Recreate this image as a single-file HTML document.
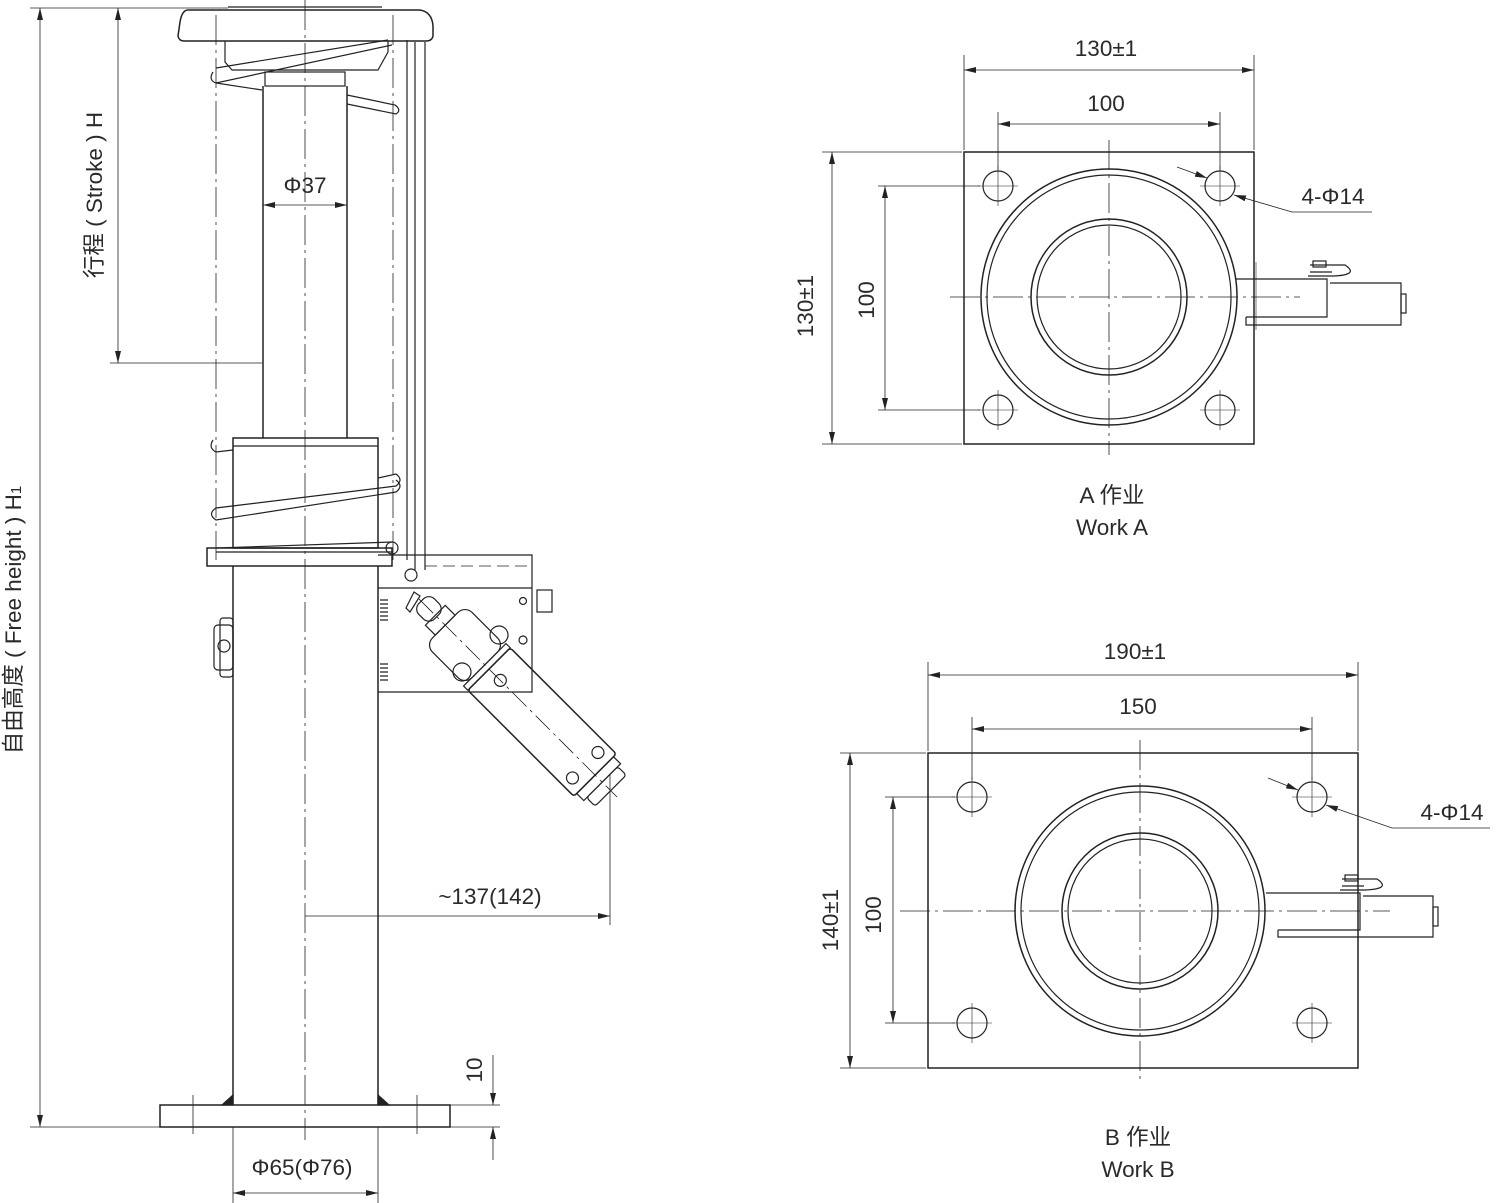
<!DOCTYPE html>
<html><head><meta charset="utf-8"><style>
html,body{margin:0;padding:0;background:#fff}
svg{display:block}
text{font-family:"Liberation Sans","Noto Sans CJK SC",sans-serif;font-size:22.5px;fill:#2a2a2a}
</style></head><body>
<svg width="1500" height="1203" viewBox="0 0 1500 1203" xmlns="http://www.w3.org/2000/svg">
<defs>
<marker id="a" viewBox="0 0 12 6" refX="12" refY="3" markerWidth="12" markerHeight="6" orient="auto-start-reverse" markerUnits="userSpaceOnUse"><path d="M0,0 L12,3 L0,6 Z" fill="#222"/></marker>
</defs>
<g stroke="#222" fill="none" stroke-width="1.2">
<line x1="305" y1="0" x2="305" y2="1140" stroke-dasharray="30,5,3,5" stroke-width="0.8"/>
<line x1="216" y1="15" x2="216" y2="560" stroke-dasharray="30,5,3,5" stroke-width="0.8"/>
<line x1="393" y1="15" x2="393" y2="560" stroke-dasharray="30,5,3,5" stroke-width="0.8"/>
<line x1="228" y1="7" x2="382" y2="7"/>
<path d="M188,10 L420,10 Q432,12 433,26 L433,36 Q432,41 426,41 L184,41 Q179,41 178,36 L180,22 Q182,10 188,10 Z" stroke-width="1.5"/>
<path d="M225,41 L225,62 L232,70 L378,70 L388,52 L388,41"/>
<path d="M213,72 Q208,80 216,83 L392,45"/>
<path d="M216,68 L388,40"/>
<path d="M216,83 L262,90"/>
<path d="M347,95 L395,105 Q402,110 396,114 L347,104"/>
<rect x="265" y="72" width="80" height="14"/>
<line x1="263" y1="86" x2="263" y2="438" stroke-width="1.5"/>
<line x1="347" y1="86" x2="347" y2="438" stroke-width="1.5"/>
<rect x="233" y="438" width="145" height="110" stroke-width="1.5"/>
<line x1="233" y1="446" x2="378" y2="446"/>
<path d="M213,440 Q208,448 216,452 L233,450"/>
<path d="M378,478 L396,474 Q404,480 396,486 L216,508 Q207,514 216,520 L396,492 Q404,486 396,480"/>
<path d="M216,548 L392,542"/>
<rect x="207" y="548" width="185" height="18" stroke-width="1.5"/>
<line x1="216" y1="552" x2="392" y2="552"/>
<circle cx="392" cy="548" r="6"/>
<line x1="233" y1="566" x2="233" y2="1105" stroke-width="1.5"/>
<line x1="378" y1="566" x2="378" y2="1105" stroke-width="1.5"/>
<path d="M222,1105 L233,1095 L233,1105 Z M389,1105 L378,1095 L378,1105 Z" fill="#222"/>
<rect x="160" y="1105" width="290" height="22" stroke-width="1.5"/>
<line x1="193" y1="1095" x2="193" y2="1134" stroke-width="0.8"/>
<line x1="417" y1="1095" x2="417" y2="1134" stroke-width="0.8"/>
<rect x="214" y="625" width="19" height="45" rx="4"/>
<rect x="220" y="618" width="13" height="59" rx="3"/>
<circle cx="224" cy="646" r="6"/>
<line x1="407" y1="40" x2="407" y2="560"/>
<line x1="415" y1="42" x2="415" y2="570"/>
<line x1="425" y1="42" x2="425" y2="570"/>
<path d="M378,555 L532,555 L532,692 L378,692"/>
<line x1="378" y1="588" x2="532" y2="588"/>
<line x1="425" y1="566" x2="532" y2="566" stroke-dasharray="12,6" stroke-width="0.8"/>
<circle cx="411" cy="575" r="6"/>
<rect x="537" y="590" width="15" height="22"/>
<circle cx="523" cy="601" r="3.5"/>
<circle cx="523" cy="640" r="4"/>
<path d="M380,600 h8 M380,604 h8 M380,608 h8 M380,612 h8 M380,616 h8 M380,620 h8 M380,664 h8 M380,668 h8 M380,672 h8 M380,676 h8 M380,680 h8"/>
<g transform="translate(465,645) rotate(45)">
<rect x="-62" y="-11" width="22" height="22" rx="8"/>
<rect x="-42" y="-14" width="14" height="28"/>
<rect x="-28" y="-28" width="56" height="56" rx="10"/>
<rect x="28" y="-30" width="6" height="60"/>
<rect x="34" y="-30" width="150" height="60" rx="3" stroke-width="1.5"/>
<rect x="184" y="-26" width="10" height="52"/>
<rect x="194" y="-22" width="12" height="44" rx="3"/>
<line x1="-65" y1="0" x2="215" y2="0" stroke-dasharray="20,5,3,5" stroke-width="0.8"/>
<circle cx="50" cy="0" r="6"/>
<circle cx="170" cy="-18" r="6"/>
<circle cx="170" cy="18" r="6"/>
</g>
<circle cx="499" cy="635" r="9"/>
<circle cx="462" cy="672" r="9"/>
<path d="M406,608 L414,592 L420,596 L410,612 Z"/>
<line x1="40" y1="8" x2="40" y2="1127" marker-start="url(#a)" marker-end="url(#a)" stroke-width="0.8"/>
<line x1="30" y1="8" x2="228" y2="8" stroke-width="0.8"/>
<line x1="30" y1="1127" x2="160" y2="1127" stroke-width="0.8"/>
<line x1="118" y1="8" x2="118" y2="363" marker-start="url(#a)" marker-end="url(#a)" stroke-width="0.8"/>
<line x1="110" y1="363" x2="262" y2="363" stroke-width="0.8"/>
<line x1="263" y1="205" x2="347" y2="205" marker-start="url(#a)" marker-end="url(#a)" stroke-width="0.8"/>
<line x1="305" y1="916" x2="610" y2="916" marker-end="url(#a)" stroke-width="0.8"/>
<line x1="610" y1="775" x2="610" y2="925" stroke-width="0.8"/>
<line x1="450" y1="1105" x2="500" y2="1105" stroke-width="0.8"/>
<line x1="450" y1="1127" x2="500" y2="1127" stroke-width="0.8"/>
<line x1="493" y1="1055" x2="493" y2="1105" marker-end="url(#a)" stroke-width="0.8"/>
<line x1="493" y1="1160" x2="493" y2="1127" marker-end="url(#a)" stroke-width="0.8"/>
<line x1="233" y1="1127" x2="233" y2="1203" stroke-width="0.8"/>
<line x1="378" y1="1127" x2="378" y2="1203" stroke-width="0.8"/>
<line x1="233" y1="1193" x2="378" y2="1193" marker-start="url(#a)" marker-end="url(#a)" stroke-width="0.8"/>

<rect x="964" y="152" width="290" height="292" stroke-width="1.5"/>
<line x1="950" y1="297" x2="1300" y2="297" stroke-dasharray="30,5,3,5" stroke-width="0.8"/>
<line x1="1109" y1="140" x2="1109" y2="455" stroke-dasharray="30,5,3,5" stroke-width="0.8"/>
<circle cx="1109" cy="297" r="128" stroke-width="1.5"/>
<circle cx="1109" cy="297" r="122"/>
<circle cx="1109" cy="297" r="78" stroke-width="1.5"/>
<circle cx="1109" cy="297" r="72"/>
<circle cx="998" cy="186" r="15"/><circle cx="1220" cy="186" r="15"/>
<circle cx="998" cy="410" r="15"/><circle cx="1220" cy="410" r="15"/>
<path d="M978,186 h40 M998,166 v40 M1200,186 h40 M1220,166 v40 M978,410 h40 M998,390 v40 M1200,410 h40 M1220,390 v40" stroke-width="0.6"/>
<path d="M1236,279 L1327,279 L1327,317 L1246,317 M1246,317 L1246,325 L1401,325 L1401,283 L1330,283"/>
<rect x="1401" y="294" width="5" height="19"/>
<path d="M1308,276 L1333,276 Q1360,275 1345,265 L1310,265 M1310,272 L1332,272"/>
<rect x="1313" y="261" width="13" height="6"/>
<line x1="1256" y1="262" x2="1256" y2="330" stroke-width="0.6"/>
<line x1="964" y1="55" x2="964" y2="150" stroke-width="0.8"/>
<line x1="1254" y1="55" x2="1254" y2="150" stroke-width="0.8"/>
<line x1="964" y1="70" x2="1254" y2="70" marker-start="url(#a)" marker-end="url(#a)" stroke-width="0.8"/>
<line x1="998" y1="112" x2="998" y2="170" stroke-width="0.8"/>
<line x1="1220" y1="112" x2="1220" y2="170" stroke-width="0.8"/>
<line x1="998" y1="124" x2="1220" y2="124" marker-start="url(#a)" marker-end="url(#a)" stroke-width="0.8"/>
<line x1="822" y1="152" x2="962" y2="152" stroke-width="0.8"/>
<line x1="822" y1="444" x2="962" y2="444" stroke-width="0.8"/>
<line x1="832" y1="152" x2="832" y2="444" marker-start="url(#a)" marker-end="url(#a)" stroke-width="0.8"/>
<line x1="878" y1="186" x2="980" y2="186" stroke-width="0.8"/>
<line x1="878" y1="410" x2="980" y2="410" stroke-width="0.8"/>
<line x1="885" y1="186" x2="885" y2="410" marker-start="url(#a)" marker-end="url(#a)" stroke-width="0.8"/>
<line x1="1177" y1="167" x2="1207" y2="178" marker-end="url(#a)" stroke-width="0.8"/>
<path d="M1234,195 L1292,212 L1372,212" marker-start="url(#a)" stroke-width="0.8"/>

<rect x="928" y="753" width="430" height="315" stroke-width="1.5"/>
<line x1="900" y1="911" x2="1390" y2="911" stroke-dasharray="30,5,3,5" stroke-width="0.8"/>
<line x1="1140" y1="740" x2="1140" y2="1080" stroke-dasharray="30,5,3,5" stroke-width="0.8"/>
<circle cx="1140" cy="911" r="125" stroke-width="1.5"/>
<circle cx="1140" cy="911" r="119"/>
<circle cx="1140" cy="911" r="78" stroke-width="1.5"/>
<circle cx="1140" cy="911" r="72"/>
<circle cx="972" cy="797" r="15"/><circle cx="1312" cy="797" r="15"/>
<circle cx="972" cy="1023" r="15"/><circle cx="1312" cy="1023" r="15"/>
<path d="M952,797 h40 M972,777 v40 M1292,797 h40 M1312,777 v40 M952,1023 h40 M972,1003 v40 M1292,1023 h40 M1312,1003 v40" stroke-width="0.6"/>
<path d="M1266,893 L1360,893 L1360,930 L1278,930 M1278,930 L1278,937 L1433,937 L1433,896 L1363,896"/>
<rect x="1433" y="907" width="5" height="19"/>
<path d="M1340,890 L1365,890 Q1392,889 1377,879 L1342,879 M1342,886 L1364,886"/>
<rect x="1345" y="875" width="13" height="6"/>
<line x1="928" y1="662" x2="928" y2="751" stroke-width="0.8"/>
<line x1="1358" y1="662" x2="1358" y2="751" stroke-width="0.8"/>
<line x1="928" y1="675" x2="1358" y2="675" marker-start="url(#a)" marker-end="url(#a)" stroke-width="0.8"/>
<line x1="972" y1="717" x2="972" y2="780" stroke-width="0.8"/>
<line x1="1312" y1="717" x2="1312" y2="780" stroke-width="0.8"/>
<line x1="972" y1="729" x2="1312" y2="729" marker-start="url(#a)" marker-end="url(#a)" stroke-width="0.8"/>
<line x1="840" y1="753" x2="926" y2="753" stroke-width="0.8"/>
<line x1="840" y1="1068" x2="926" y2="1068" stroke-width="0.8"/>
<line x1="850" y1="753" x2="850" y2="1068" marker-start="url(#a)" marker-end="url(#a)" stroke-width="0.8"/>
<line x1="885" y1="797" x2="955" y2="797" stroke-width="0.8"/>
<line x1="885" y1="1023" x2="955" y2="1023" stroke-width="0.8"/>
<line x1="893" y1="797" x2="893" y2="1023" marker-start="url(#a)" marker-end="url(#a)" stroke-width="0.8"/>
<line x1="1268" y1="778" x2="1298" y2="790" marker-end="url(#a)" stroke-width="0.8"/>
<path d="M1326,805 L1392,828 L1490,828" marker-start="url(#a)" stroke-width="0.8"/>
</g>
<g>
<text x="305" y="193" text-anchor="middle">Φ37</text>
<text x="490" y="904" text-anchor="middle">~137(142)</text>
<text x="302" y="1175" text-anchor="middle">Φ65(Φ76)</text>
<text transform="translate(482,1070) rotate(-90)" text-anchor="middle">10</text>
<text transform="translate(102,195) rotate(-90)" text-anchor="middle">行程 ( Stroke ) H</text>
<text transform="translate(21,620) rotate(-90)" text-anchor="middle">自由高度 ( Free height ) H<tspan font-size="15">1</tspan></text>
<text x="1106" y="56" text-anchor="middle">130±1</text>
<text x="1106" y="111" text-anchor="middle">100</text>
<text transform="translate(813,306) rotate(-90)" text-anchor="middle">130±1</text>
<text transform="translate(874,300) rotate(-90)" text-anchor="middle">100</text>
<text x="1333" y="204" text-anchor="middle">4-Φ14</text>
<text x="1112" y="503" text-anchor="middle">A 作业</text>
<text x="1112" y="535" text-anchor="middle">Work A</text>
<text x="1135" y="659" text-anchor="middle">190±1</text>
<text x="1138" y="714" text-anchor="middle">150</text>
<text transform="translate(838,920) rotate(-90)" text-anchor="middle">140±1</text>
<text transform="translate(881,915) rotate(-90)" text-anchor="middle">100</text>
<text x="1452" y="820" text-anchor="middle">4-Φ14</text>
<text x="1138" y="1145" text-anchor="middle">B 作业</text>
<text x="1138" y="1177" text-anchor="middle">Work B</text>
</g>
</svg>
</body></html>
